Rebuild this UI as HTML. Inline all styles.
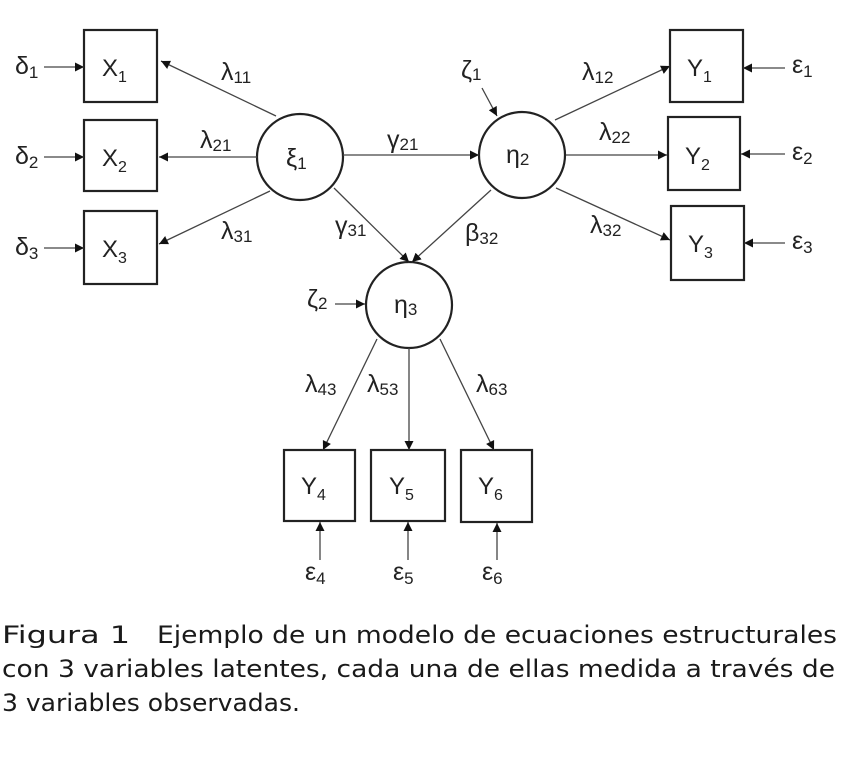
<!DOCTYPE html>
<html><head><meta charset="utf-8"><style>
html,body{margin:0;padding:0;background:#fff;}
svg{display:block;}
text{font-family:"Liberation Sans",sans-serif;fill:#222;}
.c{font-family:"DejaVu Sans Condensed","DejaVu Sans","Liberation Sans",sans-serif;fill:#1a1a1a;}
</style></head><body>
<svg width="848" height="763" viewBox="0 0 848 763" xmlns="http://www.w3.org/2000/svg">
<defs>
<marker id="a" viewBox="0 0 10 10" refX="10" refY="5" markerWidth="9" markerHeight="9" markerUnits="userSpaceOnUse" orient="auto"><path d="M0,0L10,5L0,10z" fill="#111"/></marker>
</defs>
<g fill="none" stroke="#222" stroke-width="2.2">
<rect x="84" y="30" width="73" height="72"/>
<rect x="84" y="120" width="73" height="71"/>
<rect x="84" y="211" width="73" height="73"/>
<rect x="670" y="30" width="73" height="72"/>
<rect x="668" y="117" width="72" height="73"/>
<rect x="671" y="206" width="73" height="74"/>
<rect x="284" y="450" width="71" height="71"/>
<rect x="371" y="450" width="74" height="71"/>
<rect x="461" y="450" width="71" height="72"/>
<circle cx="300" cy="157" r="43"/>
<circle cx="522" cy="155" r="43"/>
<circle cx="409" cy="305" r="43"/>
</g>
<g stroke="#444" stroke-width="1.3" fill="none" marker-end="url(#a)">
<line x1="44" y1="67" x2="84" y2="67"/>
<line x1="44" y1="157" x2="84" y2="157"/>
<line x1="44" y1="248" x2="84" y2="248"/>
<line x1="276" y1="116" x2="161" y2="61"/>
<line x1="257" y1="157" x2="159" y2="157"/>
<line x1="270" y1="191" x2="159" y2="244"/>
<line x1="343" y1="155" x2="479" y2="155"/>
<line x1="334" y1="188" x2="409" y2="262"/>
<line x1="491" y1="190" x2="412" y2="262"/>
<line x1="482" y1="88" x2="497" y2="116"/>
<line x1="555" y1="120" x2="670" y2="66"/>
<line x1="566" y1="155" x2="667" y2="155"/>
<line x1="556" y1="188" x2="670" y2="240"/>
<line x1="785" y1="68" x2="743" y2="68"/>
<line x1="785" y1="154" x2="741" y2="154"/>
<line x1="785" y1="243" x2="744" y2="243"/>
<line x1="335" y1="304" x2="365" y2="304"/>
<line x1="377" y1="339" x2="323" y2="450"/>
<line x1="409" y1="348" x2="409" y2="450"/>
<line x1="440" y1="339" x2="494" y2="450"/>
<line x1="320" y1="560" x2="320" y2="522"/>
<line x1="408" y1="560" x2="408" y2="522"/>
<line x1="497" y1="560" x2="497" y2="523"/>
</g>
<g font-size="24">
<text x="102" y="76">X<tspan font-size="16" dy="6">1</tspan></text>
<text x="102" y="166">X<tspan font-size="16" dy="6">2</tspan></text>
<text x="102" y="257">X<tspan font-size="16" dy="6">3</tspan></text>
<text x="687" y="76">Y<tspan font-size="16" dy="6">1</tspan></text>
<text x="685" y="164">Y<tspan font-size="16" dy="6">2</tspan></text>
<text x="688" y="252">Y<tspan font-size="16" dy="6">3</tspan></text>
<text x="301" y="494">Y<tspan font-size="16" dy="6">4</tspan></text>
<text x="389" y="494">Y<tspan font-size="16" dy="6">5</tspan></text>
<text x="478" y="494">Y<tspan font-size="16" dy="6">6</tspan></text>
</g>
<g font-size="25">
<text x="286" y="166">ξ<tspan font-size="17" dy="3">1</tspan></text>
<text x="506" y="163">η<tspan font-size="17" dy="2">2</tspan></text>
<text x="394" y="313">η<tspan font-size="17" dy="2">3</tspan></text>
<text x="15" y="74">δ<tspan font-size="17" dy="4">1</tspan></text>
<text x="15" y="164">δ<tspan font-size="17" dy="4">2</tspan></text>
<text x="15" y="255">δ<tspan font-size="17" dy="4">3</tspan></text>
<text x="792" y="73">ε<tspan font-size="17" dy="4">1</tspan></text>
<text x="792" y="160">ε<tspan font-size="17" dy="4">2</tspan></text>
<text x="792" y="249">ε<tspan font-size="17" dy="4">3</tspan></text>
<text x="305" y="580">ε<tspan font-size="17" dy="4">4</tspan></text>
<text x="393" y="580">ε<tspan font-size="17" dy="4">5</tspan></text>
<text x="482" y="580">ε<tspan font-size="17" dy="4">6</tspan></text>
<text x="461" y="78">ζ<tspan font-size="17" dy="2">1</tspan></text>
<text x="307" y="307">ζ<tspan font-size="17" dy="2">2</tspan></text>
<text x="221" y="80">λ<tspan font-size="17" dy="3">11</tspan></text>
<text x="200" y="148">λ<tspan font-size="17" dy="3">21</tspan></text>
<text x="221" y="239">λ<tspan font-size="17" dy="3">31</tspan></text>
<text x="387" y="148">γ<tspan font-size="17" dy="2">21</tspan></text>
<text x="335" y="234">γ<tspan font-size="17" dy="2">31</tspan></text>
<text x="465" y="241">β<tspan font-size="17" dy="3">32</tspan></text>
<text x="582" y="80">λ<tspan font-size="17" dy="3">12</tspan></text>
<text x="599" y="140">λ<tspan font-size="17" dy="3">22</tspan></text>
<text x="590" y="233">λ<tspan font-size="17" dy="3">32</tspan></text>
<text x="305" y="392">λ<tspan font-size="17" dy="3">43</tspan></text>
<text x="367" y="392">λ<tspan font-size="17" dy="3">53</tspan></text>
<text x="476" y="392">λ<tspan font-size="17" dy="3">63</tspan></text>
</g>
<g font-size="24" class="c">
<text class="c" x="2" y="643" textLength="128" lengthAdjust="spacingAndGlyphs">Figura 1</text>
<text class="c" x="157" y="643" textLength="680" lengthAdjust="spacingAndGlyphs">Ejemplo de un modelo de ecuaciones estructurales</text>
<text class="c" x="2" y="677" textLength="833" lengthAdjust="spacingAndGlyphs">con 3 variables latentes, cada una de ellas medida a través de</text>
<text class="c" x="2" y="711" textLength="298" lengthAdjust="spacingAndGlyphs">3 variables observadas.</text>
</g>
</svg>
</body></html>
